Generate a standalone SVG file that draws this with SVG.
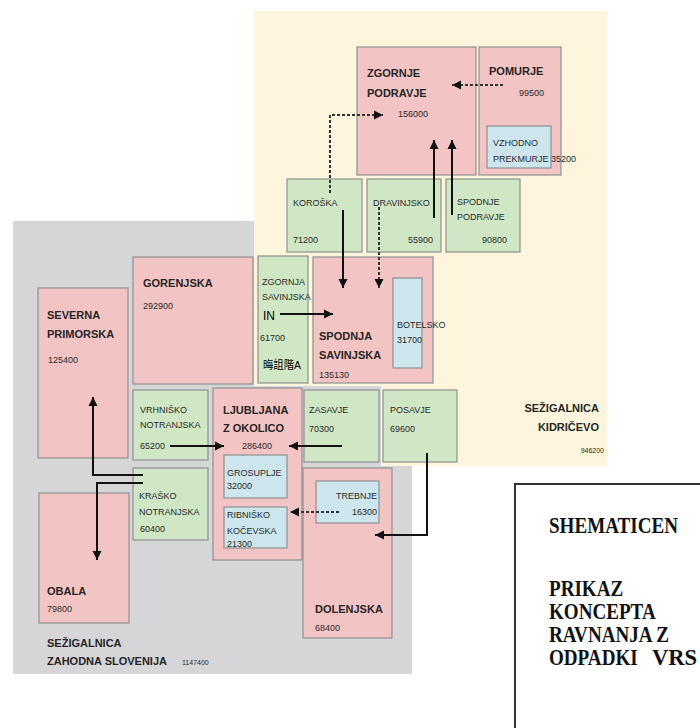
<svg xmlns="http://www.w3.org/2000/svg" width="700" height="728" viewBox="0 0 700 728">
<defs>
<marker id="ah" viewBox="0 0 10 10" refX="10" refY="5" markerWidth="9" markerHeight="11" markerUnits="userSpaceOnUse" orient="auto">
<path d="M0,0 L10,5 L0,10 z" fill="#111"/>
</marker>
</defs>
<style>
.pk{fill:#f3c4c4;stroke:#8f8f8f;stroke-width:1.2}
.gr{fill:#cfe7c5;stroke:#8f8f8f;stroke-width:1.2}
.bl{fill:#cde6ee;stroke:#8f8f8f;stroke-width:1.2}
.t{font-family:"Liberation Sans",Arial,sans-serif;font-size:11px;font-weight:bold;fill:#262626}
.s{font-family:"Liberation Sans",Arial,sans-serif;font-size:9px;fill:#2a2a2a}
.xs{font-family:"Liberation Sans",Arial,sans-serif;font-size:7px;fill:#2a2a2a}
.e{text-anchor:end}
.c{fill:none;stroke:#111;stroke-width:2;marker-end:url(#ah)}
.d{fill:none;stroke:#333;stroke-width:2;stroke-dasharray:3 2;marker-end:url(#ah)}
.bx{font-family:"Liberation Serif","Times New Roman",serif;font-size:23px;font-weight:bold;fill:#111}
</style>
<rect width="700" height="728" fill="#fff"/>
<g id="zahodna-bg">
<rect x="13" y="221" width="399" height="453" fill="#d6d6d8"/>
</g>
<g id="kidricevo-bg">
<path d="M254,11 H607 V466 H381 V386 H254 Z" fill="#fdf6dc"/>
</g>
<g id="zgornje-podravje"><rect class="pk" x="357" y="47" width="119" height="128"/>
<text class="t" x="367" y="77">ZGORNJE</text><text class="t" x="367" y="97">PODRAVJE</text><text class="s" x="398" y="117">156000</text></g>
<g id="pomurje"><rect class="pk" x="479" y="47" width="82" height="128"/>
<text class="t" x="489" y="75">POMURJE</text><text class="s e" x="544" y="96">99500</text></g>
<g id="vzhodno-prekmurje"><rect class="bl" x="487" y="126" width="64" height="42"/>
<text class="s" x="493" y="146">VZHODNO</text><text class="s" x="493" y="162">PREKMURJE 35200</text></g>
<g id="koroska"><rect class="gr" x="287" y="179" width="75" height="73"/>
<text class="s" x="293" y="206">KOROŠKA</text><text class="s" x="293" y="243">71200</text></g>
<g id="dravinjsko"><rect class="gr" x="367" y="179" width="74" height="73"/>
<text class="s" x="373" y="206">DRAVINJSKO</text><text class="s e" x="433" y="243">55900</text></g>
<g id="spodnje-podravje"><rect class="gr" x="446" y="179" width="74" height="73"/>
<text class="s" x="457" y="205">SPODNJE</text><text class="s" x="457" y="220">PODRAVJE</text><text class="s e" x="507" y="243">90800</text></g>
<g id="zgornja-savinjska"><rect class="gr" x="258" y="256" width="50" height="127"/>
<text class="s" x="262" y="285">ZGORNJA</text><text class="s" x="262" y="300">SAVINJSKA</text>
<text x="263" y="320" font-family="Liberation Sans,Arial,sans-serif" font-size="12" fill="#000">IN</text>
<text class="s" x="260" y="341">61700</text>
<text x="263" y="369" font-family="Liberation Sans,'Noto Sans CJK SC',sans-serif" font-size="11" fill="#000" textLength="38" lengthAdjust="spacingAndGlyphs">晦詛階A</text></g>
<g id="spodnja-savinjska"><rect class="pk" x="313" y="257" width="120" height="126"/>
<text class="t" x="319" y="340">SPODNJA</text><text class="t" x="319" y="359">SAVINJSKA</text><text class="s" x="319" y="378">135130</text></g>
<g id="botelsko"><rect class="bl" x="393" y="278" width="29" height="90"/>
<text class="s" x="397" y="328">BOTELSKO</text><text class="s" x="397" y="343">31700</text></g>
<g id="gorenjska"><rect class="pk" x="133" y="257" width="120" height="127"/>
<text class="t" x="143" y="287">GORENJSKA</text><text class="s" x="143" y="309">292900</text></g>
<g id="severna-primorska"><rect class="pk" x="38" y="288" width="90" height="170"/>
<text class="t" x="47" y="319">SEVERNA</text><text class="t" x="47" y="338">PRIMORSKA</text><text class="s" x="48" y="363">125400</text></g>
<g id="vrhnisko-notranjska"><rect class="gr" x="133" y="390" width="75" height="70"/>
<text class="s" x="140" y="413">VRHNIŠKO</text><text class="s" x="140" y="428">NOTRANJSKA</text><text class="s" x="140" y="449">65200</text></g>
<g id="krasko-notranjska"><rect class="gr" x="133" y="468" width="75" height="72"/>
<text class="s" x="139" y="499">KRAŠKO</text><text class="s" x="139" y="515">NOTRANJSKA</text><text class="s" x="140" y="532">60400</text></g>
<g id="obala"><rect class="pk" x="39" y="493" width="90" height="130"/>
<text class="t" x="47" y="595">OBALA</text><text class="s" x="47" y="612">79800</text></g>
<g id="ljubljana"><rect class="pk" x="213" y="388" width="89" height="172"/>
<text class="t" x="223" y="414">LJUBLJANA</text><text class="t" x="223" y="432">Z OKOLICO</text><text class="s" x="242" y="449">286400</text></g>
<g id="grosuplje"><rect class="bl" x="224" y="455" width="63" height="43"/>
<text class="s" x="227" y="476">GROSUPLJE</text><text class="s" x="227" y="489">32000</text></g>
<g id="ribnisko-kocevska"><rect class="bl" x="224" y="507" width="63" height="41"/>
<text class="s" x="227" y="518">RIBNIŠKO</text><text class="s" x="227" y="534">KOČEVSKA</text><text class="s" x="227" y="547">21300</text></g>
<g id="zasavje"><rect class="gr" x="304" y="390" width="75" height="72"/>
<text class="s" x="309" y="413">ZASAVJE</text><text class="s" x="309" y="432">70300</text></g>
<g id="posavje"><rect class="gr" x="383" y="390" width="74" height="72"/>
<text class="s" x="390" y="413">POSAVJE</text><text class="s" x="390" y="432">69600</text></g>
<g id="dolenjska"><rect class="pk" x="303" y="468" width="89" height="170"/>
<text class="t" x="315" y="613">DOLENJSKA</text><text class="s" x="315" y="631">68400</text></g>
<g id="trebnje"><rect class="bl" x="316" y="481" width="63" height="42"/>
<text class="s e" x="377" y="499">TREBNJE</text><text class="s e" x="377" y="515">16300</text></g>
<g id="sezigalnica-zahodna">
<text class="t" x="47" y="647">SEŽIGALNICA</text><text class="t" x="47" y="665">ZAHODNA SLOVENIJA</text><text class="xs" x="182" y="665">1147400</text></g>
<g id="sezigalnica-kidricevo">
<text class="t e" x="599" y="412">SEŽIGALNICA</text><text class="t e" x="599" y="431">KIDRIČEVO</text><text class="xs e" x="604" y="453">946200</text></g>
<g id="connectors">
<path class="d" d="M503,85 H452"/>
<path class="d" d="M330,193 V115 H383"/>
<path class="c" d="M434,218 V140"/>
<path class="c" d="M452,215 V140"/>
<path class="c" d="M343,210 V288"/>
<path class="d" d="M379,207 V288"/>
<path class="c" d="M280,314 H333"/>
<path class="c" d="M170,446 H224"/>
<path class="c" d="M342,446 H289"/>
<path class="c" d="M427,453 V535 H375"/>
<path class="d" d="M339,512 H290"/>
<path class="c" d="M143,475 H93 V397"/>
<path class="c" d="M143,483 H97 V560"/>
</g>
<g id="title-box">
<rect x="515" y="484" width="200" height="260" fill="#fff" stroke="#333" stroke-width="2"/>
<g transform="translate(549,0) scale(0.83,1)">
<text class="bx" x="0" y="533">SHEMATICEN</text>
<text class="bx" x="0" y="596">PRIKAZ</text>
<text class="bx" x="0" y="619">KONCEPTA</text>
<text class="bx" x="0" y="642">RAVNANJA Z</text>
<text class="bx" x="0" y="665">ODPADKI</text>
</g>
<text class="bx" x="652" y="665" transform="translate(652,0) scale(0.98,1) translate(-652,0)">VRS</text>
</g>
</svg>
